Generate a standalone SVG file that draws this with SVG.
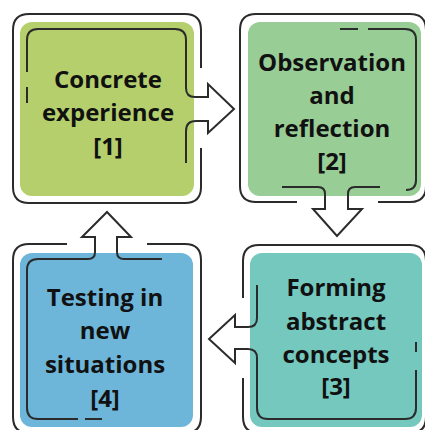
<svg xmlns="http://www.w3.org/2000/svg" width="425" height="430" viewBox="0 0 425 430">
<style>
.frame{fill:none;stroke:#2b2b2b;stroke-width:2;stroke-linecap:butt;stroke-linejoin:miter}
.inner{fill:none;stroke:#2b2b2b;stroke-width:2;stroke-linejoin:miter}
text{font-family:"Open Sans","Noto Sans","Liberation Sans",sans-serif;font-weight:700;font-size:24px;fill:#111111;text-anchor:middle}
</style>
<rect width="425" height="430" fill="#ffffff"/>
<g id="node1">
<rect x="20" y="22" width="174" height="174" rx="12" fill="#b4cf6c"/>
<path class="frame" d="M201 68V30Q201 14 185 14H29Q13 14 13 30V187Q13 203 29 203H185Q201 203 201 187V148"/>
<path class="inner" d="M27 72V40Q27 29 38 29H175Q186 29 186 40V88"/>
<path class="inner" d="M27 87V103"/>
<path class="inner" d="M186 131V163"/>
<text x="108" y="88">Concrete</text>
<text x="108" y="121">experience</text>
<text x="108" y="155">[1]</text>
</g>
<g id="node2">
<rect x="248" y="22" width="173" height="174" rx="12" fill="#98cd96"/>
<path class="frame" d="M297 202H256Q240 202 240 186V30Q240 14 256 14H410Q426 14 426 30V186Q426 202 410 202H378"/>
<path class="inner" d="M340 29H358"/>
<path class="inner" d="M368 29H405Q416 29 416 40V180Q416 190 406 190"/>
<path class="inner" d="M282 187H318"/>
<path class="inner" d="M355 187H380"/>
<text x="332" y="71">Observation</text>
<text x="332" y="104">and</text>
<text x="332" y="137">reflection</text>
<text x="332" y="170">[2]</text>
</g>
<g id="node3">
<rect x="250" y="253" width="172" height="174" rx="12" fill="#74c8be"/>
<path class="frame" d="M243 378V417Q243 433 259 433H410Q426 433 426 417V261Q426 245 410 245H259Q243 245 243 261V298"/>
<path class="inner" d="M257 285V318"/>
<path class="inner" d="M257 358V408Q257 419 268 419H405Q416 419 416 408V370"/>
<path class="inner" d="M416 342V352"/>
<text x="336" y="296">Forming</text>
<text x="336" y="330">abstract</text>
<text x="336" y="363">concepts</text>
<text x="336" y="395">[3]</text>
</g>
<g id="node4">
<rect x="20" y="253" width="173" height="174" rx="12" fill="#6db6da"/>
<path class="frame" d="M67 244H29Q13 244 13 260V417Q13 433 29 433H185Q201 433 201 417V260Q201 244 185 244H147"/>
<path class="inner" d="M162 259H124"/>
<path class="inner" d="M88 259H38Q27 259 27 270V408Q27 419 38 419H78"/>
<path class="inner" d="M85 419H102"/>
<text x="105" y="306">Testing in</text>
<text x="105" y="339">new</text>
<text x="105" y="373">situations</text>
<text x="105" y="407">[4]</text>
</g>
<g id="connectors">
<path class="inner" d="M186 88Q186 97 195 97H208V84L234 109L208 133V121H196Q186 121 186 131"/>
<path class="inner" d="M318 187Q325 187 325 194V209H313L337 236L362 209H348V194Q348 187 355 187"/>
<path class="inner" d="M257 318Q257 327 248 327H235V315L209 339L235 363V349H248Q257 349 257 358"/>
<path class="inner" d="M124 259Q117 259 117 252V237H131L107 212L82 237H95V252Q95 259 88 259"/>
</g>
</svg>
